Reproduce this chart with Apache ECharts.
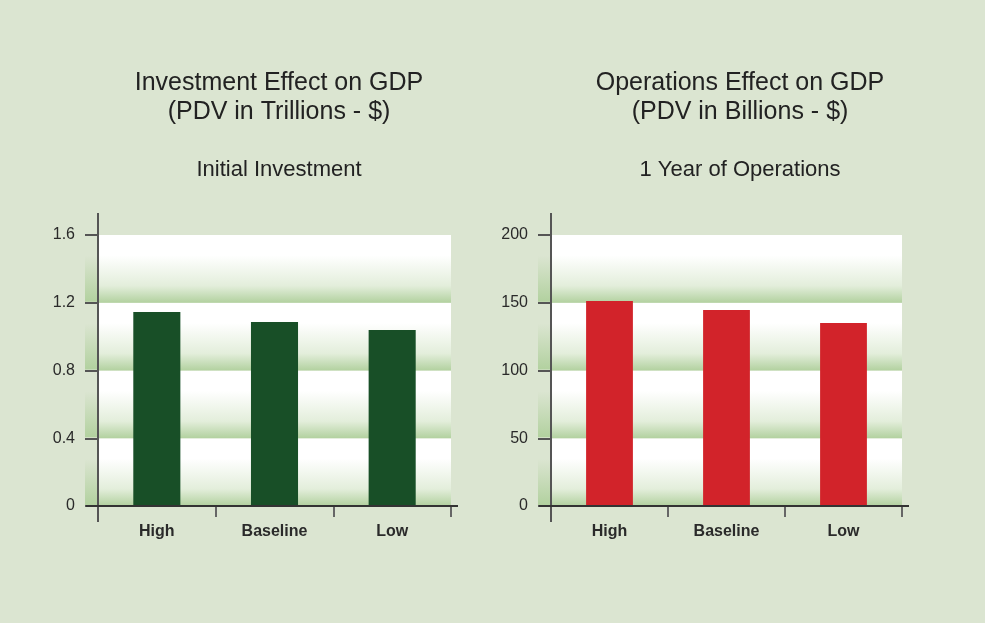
<!DOCTYPE html>
<html>
<head>
<meta charset="utf-8">
<script src="https://cdn.jsdelivr.net/npm/echarts@6/dist/echarts.min.js"></script>
<style>
html,body{margin:0;padding:0;background:#dbe5d1;}
#c{width:985px;height:623px;}
</style>
</head>
<body>
<div id="c"></div>
<script>
const categories = ['High', 'Baseline', 'Low'];
const investmentValues = [1.145, 1.086, 1.039];
const operationsValues = [151.3, 144.6, 135.1];
const investmentTicks = { min: 0, max: 1.6, interval: 0.4 };
const operationsTicks = { min: 0, max: 200, interval: 50 };
const titles = [
  { main: 'Investment Effect on GDP\n(PDV in Trillions - $)', sub: 'Initial Investment' },
  { main: 'Operations Effect on GDP\n(PDV in Billions - $)', sub: '1 Year of Operations' }
];

const FONT = "'Liberation Sans', Arial, sans-serif";
const BG = '#dbe5d1';
const GREEN = '#b2d19f';
const chart = echarts.init(document.getElementById('c'));

const band = new echarts.graphic.LinearGradient(0, 0, 0, 1, [
  { offset: 0, color: '#ffffff' },
  { offset: 0.3, color: '#ffffff' },
  { offset: 0.75, color: '#e3eedb' },
  { offset: 1, color: GREEN }
]);

const grids = [
  { left: 98, top: 235, width: 353, height: 271 },
  { left: 551, top: 235, width: 351, height: 271 }
];
const tickSets = [investmentTicks, operationsTicks];

function yAxis(idx, t) {
  return {
    type: 'value', gridIndex: idx, min: t.min, max: t.max, interval: t.interval, z: 5,
    axisLine: { show: true, lineStyle: { color: '#555', width: 2 } },
    axisTick: { show: true, length: 13, lineStyle: { color: '#555', width: 2 } },
    axisLabel: { margin: 23, fontFamily: FONT, fontSize: 16, color: '#2a2a2a' },
    splitLine: { show: false },
    splitArea: { show: true, areaStyle: { color: [band] } }
  };
}
function xAxis(idx) {
  return {
    type: 'category', gridIndex: idx, data: categories, z: 5,
    axisLine: { show: true, lineStyle: { color: '#333', width: 2 } },
    axisTick: { show: true, length: 11, lineStyle: { color: '#666', width: 2 } },
    axisLabel: { margin: 18, fontFamily: FONT, fontSize: 16, fontWeight: 'bold', color: '#2a2a2a' }
  };
}

const centers = [274, 735];
const titleOpts = [];
titles.forEach((t, i) => {
  titleOpts.push({
    text: t.main, left: centers[i], top: 64, textAlign: 'center',
    textStyle: { fontFamily: FONT, fontSize: 25, fontWeight: 'normal', color: '#222', lineHeight: 29 }
  });
  titleOpts.push({
    text: t.sub, left: centers[i], top: 154, textAlign: 'center',
    textStyle: { fontFamily: FONT, fontSize: 22, fontWeight: 'normal', color: '#222' }
  });
});

chart.setOption({
  backgroundColor: BG,
  animation: false,
  title: titleOpts,
  grid: grids,
  xAxis: [xAxis(0), xAxis(1)],
  yAxis: [yAxis(0, investmentTicks), yAxis(1, operationsTicks)],
  series: [
    { type: 'bar', xAxisIndex: 0, yAxisIndex: 0, data: investmentValues, barWidth: '40%', itemStyle: { color: '#184f27' }, z: 5 },
    { type: 'bar', xAxisIndex: 1, yAxisIndex: 1, data: operationsValues, barWidth: '40%', itemStyle: { color: '#d2232a' }, z: 5 }
  ]
});

// decorative axis-line extensions and band shading left of the axis
const gfx = [];
grids.forEach((g, i) => {
  const t = tickSets[i];
  for (let v = t.min; v < t.max - 1e-9; v += t.interval) {
    const yb = chart.convertToPixel({ yAxisIndex: i }, v);
    const yt = chart.convertToPixel({ yAxisIndex: i }, v + t.interval);
    gfx.push({
      type: 'rect', shape: { x: g.left - 13, y: yt + 1, width: 13, height: yb - yt - 2 },
      style: { fill: new echarts.graphic.LinearGradient(0, 0, 0, 1, [
        { offset: 0, color: BG }, { offset: 0.3, color: BG }, { offset: 1, color: GREEN }
      ]) }, z: 0
    });
  }
  gfx.push({ type: 'line', shape: { x1: g.left, y1: 213, x2: g.left, y2: 522 }, style: { stroke: '#555', lineWidth: 2 }, z: 10 });
  gfx.push({ type: 'line', shape: { x1: g.left - 12, y1: g.top + g.height, x2: g.left + g.width + 7, y2: g.top + g.height }, style: { stroke: '#333', lineWidth: 2 }, z: 10 });
});
chart.setOption({ graphic: gfx });
</script>
</body>
</html>
